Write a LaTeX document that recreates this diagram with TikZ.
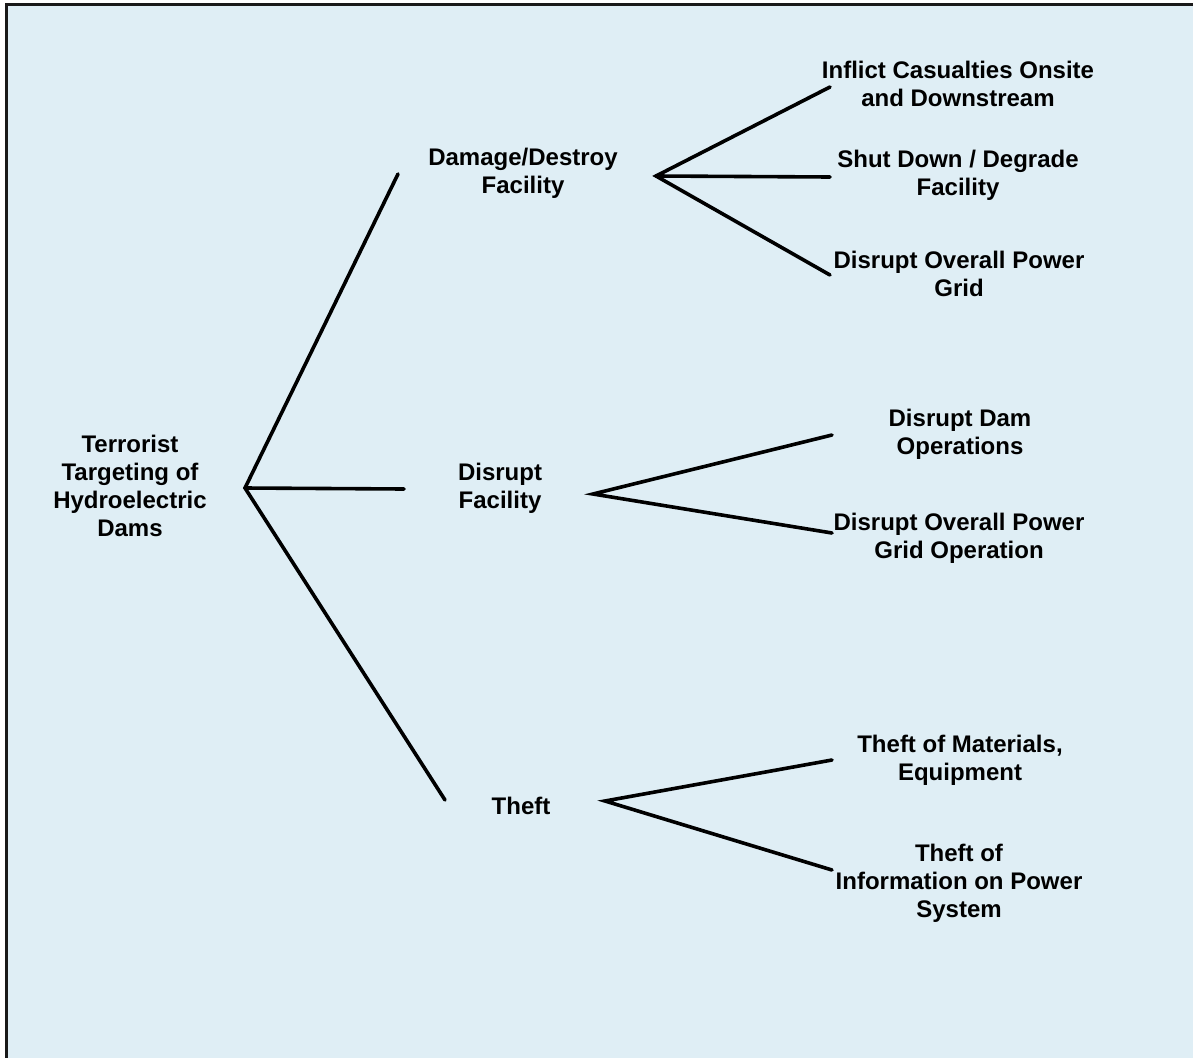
\documentclass[tikz,border=0pt]{standalone}
\usepackage{fontspec}
\setmainfont{Liberation Sans}
\definecolor{bgblue}{RGB}{223,238,245}
\begin{document}
\begin{tikzpicture}[x=1pt,y=-1pt,
  lbl/.style={align=center,font=\fontsize{24}{28}\selectfont\bfseries,inner sep=0pt},
  link/.style={line width=3.6pt,line cap=round}]
\useasboundingbox (0,0) rectangle (1193,1057);
\fill[bgblue] (6,5) rectangle (1200,1065);
\draw[line width=3pt,black!90] (6,1065) -- (6,5) -- (1200,5);
% text nodes
\node[lbl] (root) at (130,486) {Terrorist\\Targeting of\\Hydroelectric\\Dams};
\node[lbl] (dmg) at (523,173) {Damage/Destroy\\Facility};
\node[lbl] (dis) at (500,488) {Disrupt\\Facility};
\node[lbl] (thf) at (521,806) {Theft};
\node[lbl] (l1) at (958,84) {Inflict Casualties Onsite\\and Downstream};
\node[lbl] (l2) at (958,175) {Shut Down / Degrade\\Facility};
\node[lbl] (l3) at (959,274) {Disrupt Overall Power\\Grid};
\node[lbl] (l4) at (960,434) {Disrupt Dam\\Operations};
\node[lbl] (l5) at (959,538) {Disrupt Overall Power\\Grid Operation};
\node[lbl] (l6) at (960,760) {Theft of Materials,\\Equipment};
\node[lbl] (l7) at (959,883) {Theft of\\Information on Power\\System};
% junction and end coordinates
\coordinate (j0) at (245,488);
\coordinate (e1) at (398,174);
\coordinate (e2) at (404,489);
\coordinate (e3) at (445,800);
\coordinate (j1) at (656,176);
\coordinate (f1) at (830,87);
\coordinate (f2) at (830,177);
\coordinate (f3) at (830,275);
\coordinate (j2) at (593,494);
\coordinate (f4) at (832,435);
\coordinate (f5) at (832,533);
\coordinate (j3) at (605,801);
\coordinate (f6) at (832,760);
\coordinate (f7) at (832,870);
% connectors
\draw[link] (e1) -- (j0) -- (e3);
\draw[link] (j0) -- (e2);
\draw[link] (f1) -- (j1) -- (f3);
\draw[link] (j1) -- (f2);
\draw[link] (f4) -- (j2) -- (f5);
\draw[link] (f6) -- (j3) -- (f7);
\end{tikzpicture}
\end{document}
